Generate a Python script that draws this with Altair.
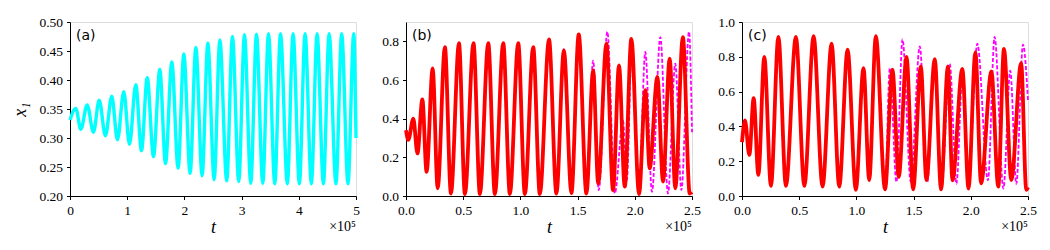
import altair as alt
import pandas as pd

# ---------------- data (t in units of 1e5) ----------------
# Panel (a): cyan series x1(t)
a_t = [0.00, 0.10, 0.19, 0.30, 0.41, 0.51, 0.62, 0.73, 0.83, 0.94, 1.04, 1.15, 1.25, 1.35,
       1.46, 1.57, 1.67, 1.78, 1.89, 1.99, 2.10, 2.20, 2.31, 2.41, 2.52, 2.62, 2.74, 2.84,
       2.95, 3.05, 3.16, 3.26, 3.37, 3.47, 3.58, 3.68, 3.80, 3.90, 4.01, 4.11, 4.22, 4.32,
       4.43, 4.53, 4.65, 4.75, 4.86, 4.96, 5.00]
a_x1 = [0.331, 0.351, 0.315, 0.357, 0.310, 0.365, 0.304, 0.372, 0.297, 0.380, 0.289, 0.392,
        0.278, 0.404, 0.268, 0.418, 0.256, 0.431, 0.248, 0.445, 0.239, 0.456, 0.235, 0.464,
        0.228, 0.469, 0.226, 0.475, 0.225, 0.478, 0.222, 0.479, 0.222, 0.480, 0.221, 0.480,
        0.221, 0.480, 0.221, 0.480, 0.221, 0.480, 0.221, 0.480, 0.221, 0.480, 0.221, 0.480,
        0.300]

# Panel (b): red solid series
b_red_t = [0.00, 0.02, 0.064, 0.10, 0.143, 0.18, 0.233, 0.277, 0.34, 0.393, 0.463, 0.515,
           0.59, 0.646, 0.719, 0.777, 0.85, 0.908, 0.981, 1.039, 1.112, 1.17, 1.25, 1.315,
           1.38, 1.446, 1.51, 1.577, 1.636, 1.68, 1.752, 1.81, 1.862, 1.912, 1.97, 2.037,
           2.092, 2.13, 2.197, 2.247, 2.305, 2.354, 2.42, 2.48, 2.50]
b_red_v = [0.34, 0.29, 0.40, 0.22, 0.50, 0.125, 0.66, 0.04, 0.77, 0.013, 0.79, 0.01,
           0.79, 0.01, 0.79, 0.01, 0.79, 0.01, 0.79, 0.01, 0.77, 0.01, 0.81, 0.013,
           0.753, 0.015, 0.836, 0.013, 0.65, 0.065, 0.788, 0.03, 0.676, 0.048, 0.813, 0.01,
           0.547, 0.143, 0.616, 0.074, 0.71, 0.04, 0.822, 0.013, 0.02]
# Panel (b): magenta dashed series
b_mag_t = [0.00, 0.02, 0.064, 0.10, 0.143, 0.18, 0.233, 0.277, 0.34, 0.393, 0.463, 0.515,
           0.59, 0.646, 0.719, 0.777, 0.85, 0.908, 0.981, 1.039, 1.112, 1.17, 1.25, 1.315,
           1.38, 1.446, 1.51, 1.577, 1.636, 1.685, 1.76, 1.825, 1.897, 1.93, 1.975, 2.035,
           2.092, 2.15, 2.223, 2.29, 2.354, 2.407, 2.474, 2.50]
b_mag_v = [0.34, 0.29, 0.40, 0.22, 0.50, 0.125, 0.66, 0.04, 0.77, 0.013, 0.79, 0.01,
           0.79, 0.01, 0.79, 0.01, 0.79, 0.01, 0.79, 0.01, 0.77, 0.01, 0.81, 0.013,
           0.76, 0.015, 0.836, 0.013, 0.70, 0.03, 0.85, 0.013, 0.39, 0.08, 0.80, 0.015,
           0.745, 0.022, 0.822, 0.013, 0.685, 0.03, 0.85, 0.33]

# Panel (c): red solid series
c_red_t = [0.00, 0.026, 0.064, 0.102, 0.143, 0.195, 0.253, 0.318, 0.384, 0.471, 0.545,
           0.626, 0.704, 0.783, 0.85, 0.923, 0.995, 1.062, 1.112, 1.17, 1.25, 1.315, 1.37,
           1.438, 1.496, 1.563, 1.612, 1.685, 1.74, 1.80, 1.84, 1.926, 1.98, 2.04, 2.09,
           2.18, 2.24, 2.29, 2.354, 2.44, 2.485, 2.50]
c_red_v = [0.31, 0.434, 0.236, 0.562, 0.121, 0.80, 0.058, 0.914, 0.058, 0.914, 0.058,
           0.918, 0.054, 0.875, 0.054, 0.841, 0.035, 0.735, 0.092, 0.918, 0.038, 0.726, 0.11,
           0.80, 0.038, 0.745, 0.092, 0.787, 0.038, 0.745, 0.09, 0.73, 0.043, 0.825, 0.073,
           0.716, 0.054, 0.845, 0.092, 0.764, 0.035, 0.05]
# Panel (c): magenta dashed series
c_mag_t = [0.00, 0.026, 0.064, 0.102, 0.143, 0.195, 0.253, 0.318, 0.384, 0.471, 0.545,
           0.626, 0.704, 0.783, 0.85, 0.923, 0.995, 1.062, 1.112, 1.17, 1.25, 1.292, 1.35,
           1.403, 1.475, 1.554, 1.62, 1.68, 1.745, 1.816, 1.874, 1.93, 1.98, 2.057, 2.15,
           2.208, 2.285, 2.345, 2.398, 2.456, 2.50]
c_mag_v = [0.31, 0.434, 0.236, 0.562, 0.121, 0.80, 0.058, 0.914, 0.058, 0.914, 0.058,
           0.918, 0.054, 0.875, 0.054, 0.841, 0.035, 0.735, 0.092, 0.918, 0.038, 0.735, 0.08,
           0.90, 0.08, 0.86, 0.08, 0.78, 0.07, 0.76, 0.07, 0.73, 0.06, 0.875, 0.09,
           0.914, 0.043, 0.72, 0.07, 0.87, 0.55]

# axis ticks / labels
a_xticks = [0, 1, 2, 3, 4, 5]
a_yticks = [0.20, 0.25, 0.30, 0.35, 0.40, 0.45, 0.50]
bc_xticks = [0.0, 0.5, 1.0, 1.5, 2.0, 2.5]
b_yticks = [0.0, 0.2, 0.4, 0.6, 0.8]
c_yticks = [0.0, 0.2, 0.4, 0.6, 0.8, 1.0]
panel_labels = ["(a)", "(b)", "(c)"]
offset_text = "\u00d710\u2075"

# ---------------- styling ----------------
W, H = 286, 174
SERIF = "Liberation Serif"
SANS = "DejaVu Sans"


def x_axis(values, fmt):
    return alt.Axis(values=values, format=fmt, title="t", grid=False,
                    titleFont=SERIF, titleFontStyle="italic", titleFontSize=18,
                    titleFontWeight="normal", titleColor="black", titlePadding=2,
                    labelFont=SERIF, labelFontSize=13.5, labelColor="black",
                    labelFlush=False, labelOverlap=False, labelPadding=3.5,
                    tickSize=3.5, tickColor="black", domainColor="black")


def y_axis(values, fmt, title=None):
    kw = dict(values=values, format=fmt, grid=False,
              labelFont=SERIF, labelFontSize=13.5, labelColor="black",
              labelFlush=False, labelOverlap=False, labelPadding=4,
              tickSize=3.5, tickColor="black", domainColor="black")
    if title:
        kw.update(title=title, titleFont=SERIF, titleFontStyle="italic", titleFontSize=18,
                  titleFontWeight="normal", titleColor="black", titlePadding=9)
    else:
        kw.update(title=None)
    return alt.Axis(**kw)


def annotations(label):
    lab = alt.Chart(pd.DataFrame({"s": [label]})).mark_text(
        font=SANS, fontSize=14, align="left", baseline="alphabetic", color="black"
    ).encode(x=alt.value(6), y=alt.value(17.5), text="s:N")
    off = alt.Chart(pd.DataFrame({"s": [offset_text]})).mark_text(
        font=SERIF, fontSize=14, align="right", baseline="alphabetic", color="black"
    ).encode(x=alt.value(W), y=alt.value(209), text="s:N")
    return lab + off


# Panel (a)
df_a = pd.DataFrame({"t": a_t, "v": a_x1})
pa_line = alt.Chart(df_a).mark_line(color="#00FFFF", strokeWidth=3.4, interpolate="monotone").encode(
    x=alt.X("t:Q", scale=alt.Scale(domain=[0, 5], nice=False), axis=x_axis(a_xticks, "d")),
    y=alt.Y("v:Q", scale=alt.Scale(domain=[0.2, 0.5], nice=False, zero=False),
            axis=y_axis(a_yticks, ".2f", title="x\u2081")),
)
panel_a = alt.layer(pa_line, annotations(panel_labels[0])).properties(width=W, height=H)


def two_series(red_t, red_v, mag_t, mag_v, ydom, yticks, label):
    xs = alt.X("t:Q", scale=alt.Scale(domain=[0, 2.5], nice=False), axis=x_axis(bc_xticks, ".1f"))
    ys = alt.Y("v:Q", scale=alt.Scale(domain=ydom, nice=False), axis=y_axis(yticks, ".1f"))
    mag = alt.Chart(pd.DataFrame({"t": mag_t, "v": mag_v})).mark_line(
        color="#FF00FF", strokeWidth=1.8, strokeDash=[4, 2], interpolate="monotone"
    ).encode(x=xs, y=ys)
    red = alt.Chart(pd.DataFrame({"t": red_t, "v": red_v})).mark_line(
        color="#FF0000", strokeWidth=3.8, interpolate="monotone"
    ).encode(x=xs, y=ys)
    return alt.layer(mag, red, annotations(label)).properties(width=W, height=H)


panel_b = two_series(b_red_t, b_red_v, b_mag_t, b_mag_v, [0, 0.9], b_yticks, panel_labels[1])
panel_c = two_series(c_red_t, c_red_v, c_mag_t, c_mag_v, [0, 1.0], c_yticks, panel_labels[2])

chart = alt.hconcat(panel_a, panel_b, panel_c, spacing=50, bounds="flush").properties(
    padding={"left": 3, "top": 6, "right": 0, "bottom": 0}
).configure_view(stroke="black", strokeWidth=1).configure(background="white")

chart.save("out.html", embed_options={"renderer": "svg", "actions": False})
